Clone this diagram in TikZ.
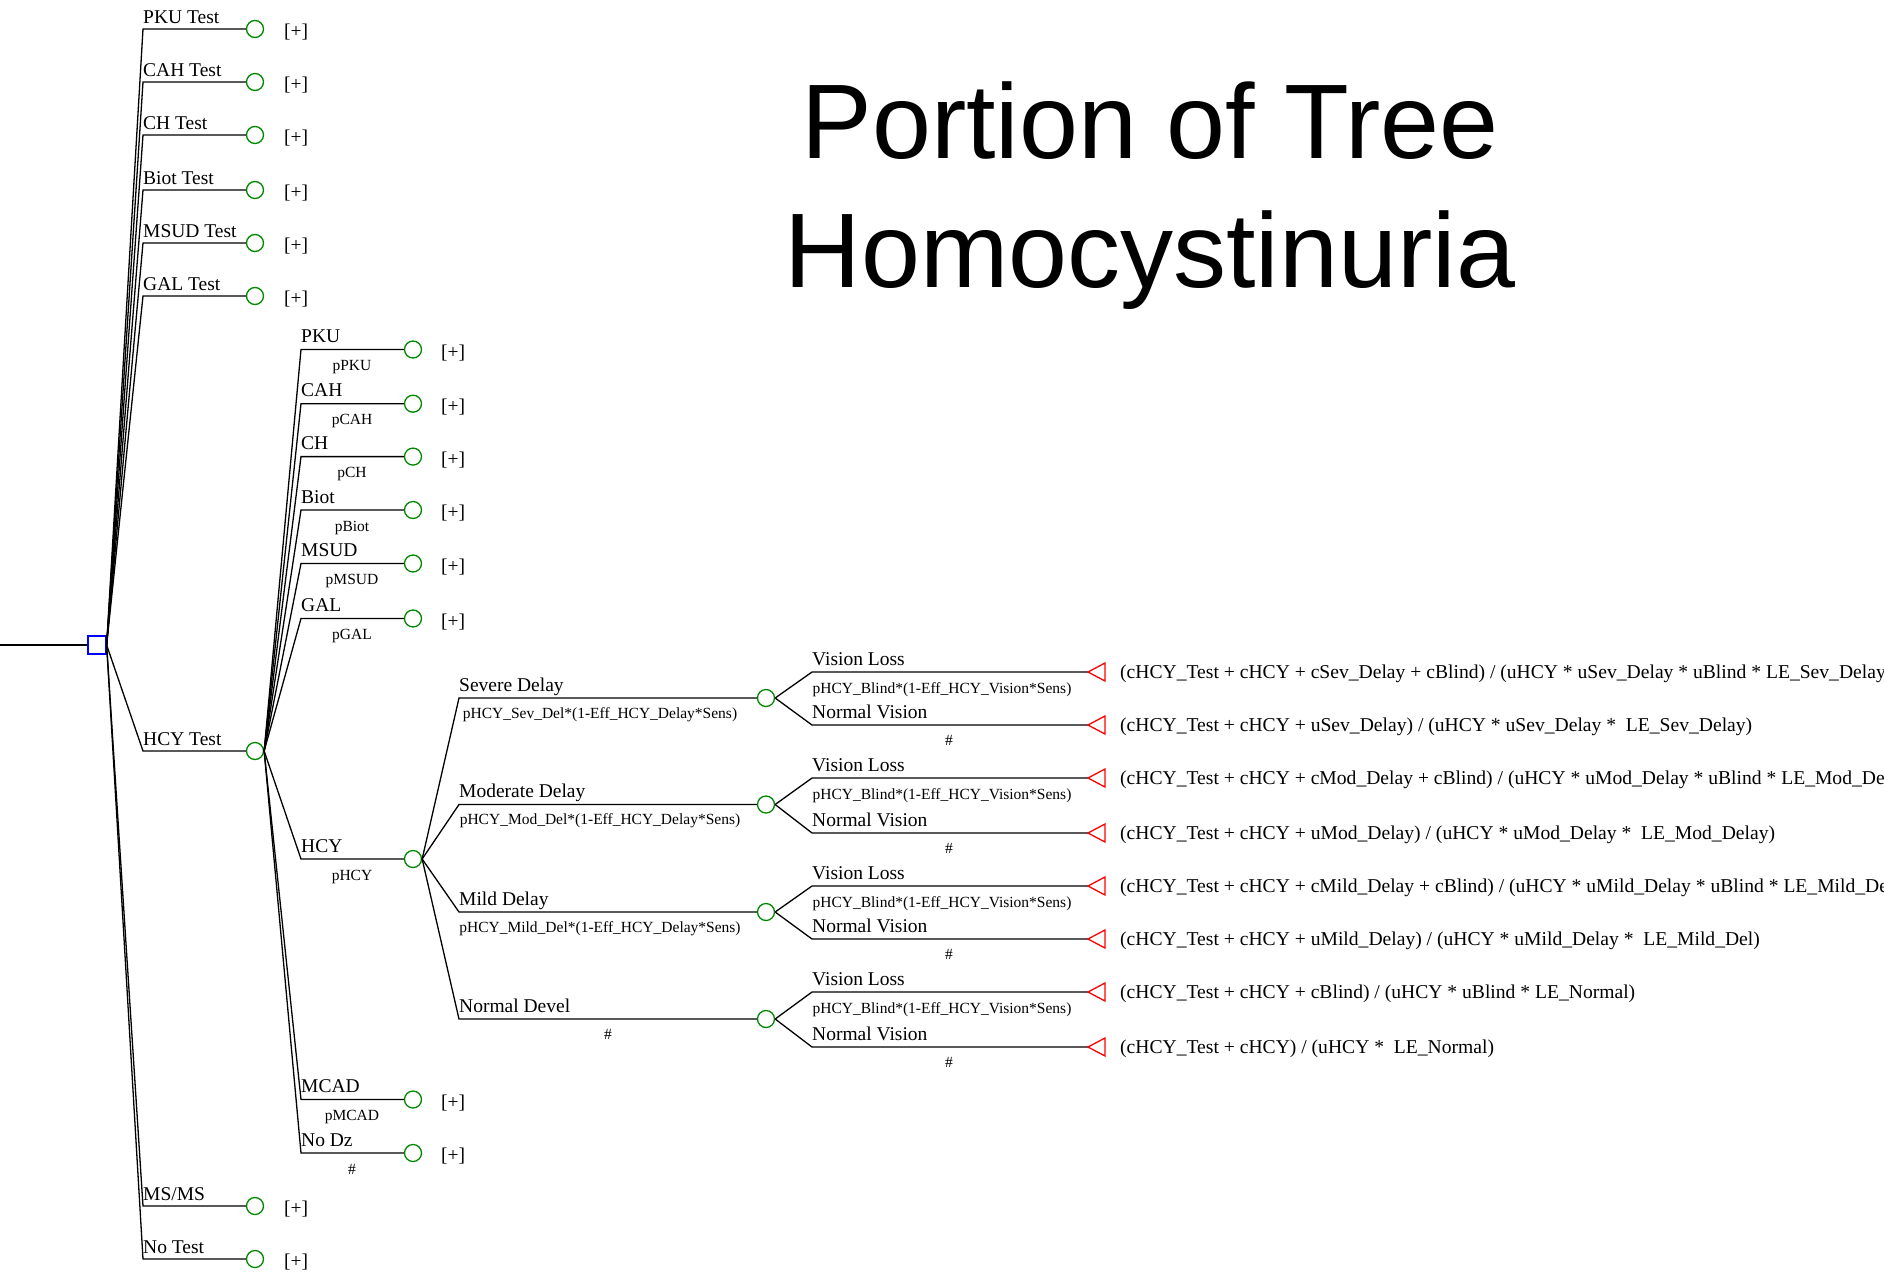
\documentclass[tikz,border=0pt]{standalone}
\usepackage{fontspec}
\setmainfont{Liberation Serif}
\newfontfamily\titlefont{Liberation Sans}
\usetikzlibrary{calc}
\definecolor{chgreen}{RGB}{0,135,0}
\definecolor{decblue}{RGB}{0,0,255}
\definecolor{termred}{RGB}{255,0,0}
\tikzset{
  br/.style={line width=1.3pt, black, line join=miter},
  chn/.style={circle, draw=chgreen, line width=1.3pt, minimum size=17pt, inner sep=0pt},
  dec/.style={rectangle, draw=decblue, line width=1.3pt, minimum size=18pt, inner sep=0pt},
  term/.style={draw=termred, line width=1.3pt, line join=miter},
  lab/.style={font=\fontsize{19.5}{21}\selectfont, anchor=base west, inner sep=0pt},
  prob/.style={font=\fontsize{15.5}{17}\selectfont, anchor=base, inner sep=0pt},
  plus/.style={font=\fontsize{19.5}{21}\selectfont, anchor=base west, inner sep=0pt},
  pay/.style={font=\fontsize{19.6}{21}\selectfont, anchor=base west, inner sep=0pt},
  ttl/.style={font=\titlefont\fontsize{106}{127}\selectfont, anchor=base, inner sep=0pt}
}
\begin{document}
\begin{tikzpicture}[x=1pt,y=-1pt]
\useasboundingbox (0,0) rectangle (1884,1272);
\clip (0,0) rectangle (1884,1272);

% title
\node[ttl] (t1) at (1150,158) {Portion of Tree};
\node[ttl] (t2) at (1150,287) {Homocystinuria};

% root decision
\coordinate (in) at (0,645);
\node[dec] (root) at (97,645) {};
\draw[br] (in) -- (root.west);

% level 1 test branches
\foreach \i/\y/\t in {1/29/PKU Test,2/82/CAH Test,3/135/CH Test,4/190/Biot Test,5/243/MSUD Test,6/296/GAL Test,7/1206/MS\slash MS,8/1259/No Test}{
  \coordinate (s\i) at (143,\y);
  \node[chn] (c\i) at (255,\y) {};
  \draw[br] (root.east) -- (s\i) -- (c\i.west);
  \node[lab] (l\i) at (143,{\y-6}) {\t};
  \node[plus] (p\i) at (284,{\y+8}) {[+]};
}
% HCY Test
\coordinate (sH) at (143,751);
\node[chn] (cH) at (255,751) {};
\draw[br] (root.east) -- (sH) -- (cH.west);
\node[lab] (lH) at (143,745) {HCY Test};

% level 2 disease branches
\foreach \i/\y/\t/\p in {1/349.5/PKU/pPKU,2/403.7/CAH/pCAH,3/456.6/CH/pCH,4/510/Biot/pBiot,5/563.5/MSUD/pMSUD,6/618.5/GAL/pGAL,7/1099.5/MCAD/pMCAD,8/1153/No Dz/\#}{
  \coordinate (d\i) at (301,\y);
  \node[chn] (e\i) at (413,\y) {};
  \draw[br] (cH.east) -- (d\i) -- (e\i.west);
  \node[lab] (m\i) at (301,{\y-7}) {\t};
  \node[prob] (q\i) at (352,{\y+21}) {\p};
  \node[plus] (r\i) at (441,{\y+8.5}) {[+]};
}
% HCY disease
\coordinate (dH) at (301,859);
\node[chn] (eH) at (413,859) {};
\draw[br] (cH.east) -- (dH) -- (eH.west);
\node[lab] (mH) at (301,852) {HCY};
\node[prob] (qH) at (352,880) {pHCY};

% level 3 delay branches
\foreach \i/\y/\t/\p/\cx in {1/698/Severe Delay/{pHCY\_Sev\_Del*(1-Eff\_HCY\_Delay*Sens)}/600,2/804.5/Moderate Delay/{pHCY\_Mod\_Del*(1-Eff\_HCY\_Delay*Sens)}/600,3/912/Mild Delay/{pHCY\_Mild\_Del*(1-Eff\_HCY\_Delay*Sens)}/600,4/1019/Normal Devel/\#/608}{
  \coordinate (g\i) at (459,\y);
  \node[chn] (h\i) at (766,\y) {};
  \draw[br] (eH.east) -- (g\i) -- (h\i.west);
  \node[lab] (n\i) at (459,{\y-7}) {\t};
  \node[prob] (o\i) at (\cx,{\y+20}) {\p};
}

% level 4 vision branches
\foreach \i/\a/\b in {1/672/725,2/778/833,3/886/939,4/992/1047}{
  \coordinate (va\i) at (812,\a);
  \coordinate (vb\i) at (812,\b);
  \coordinate (ta\i) at (1088,\a);
  \coordinate (tb\i) at (1088,\b);
  \draw[br] (h\i.east) -- (va\i) -- (ta\i);
  \draw[br] (h\i.east) -- (vb\i) -- (tb\i);
  \draw[term] (ta\i) -- ++(17,-9) -- ++(0,18) -- cycle;
  \draw[term] (tb\i) -- ++(17,-9) -- ++(0,18) -- cycle;
  \node[lab] (wa\i) at (812,{\a-7}) {Vision Loss};
  \node[lab] (wb\i) at (812,{\b-7}) {Normal Vision};
  \node[prob] (xa\i) at (942,{\a+21}) {pHCY\_Blind*(1-Eff\_HCY\_Vision*Sens)};
  \node[prob] (xb\i) at (949,{\b+20}) {\#};
}

% payoffs
\node[pay] (y1) at (1120,678) {(cHCY\_Test + cHCY + cSev\_Delay + cBlind) / (uHCY * uSev\_Delay * uBlind * LE\_Sev\_Delay)};
\node[pay] (y2) at (1120,731) {(cHCY\_Test + cHCY + uSev\_Delay) / (uHCY * uSev\_Delay * \ LE\_Sev\_Delay)};
\node[pay] (y3) at (1120,784) {(cHCY\_Test + cHCY + cMod\_Delay + cBlind) / (uHCY * uMod\_Delay * uBlind * LE\_Mod\_Delay)};
\node[pay] (y4) at (1120,839) {(cHCY\_Test + cHCY + uMod\_Delay) / (uHCY * uMod\_Delay * \ LE\_Mod\_Delay)};
\node[pay] (y5) at (1120,892) {(cHCY\_Test + cHCY + cMild\_Delay + cBlind) / (uHCY * uMild\_Delay * uBlind * LE\_Mild\_Del)};
\node[pay] (y6) at (1120,945) {(cHCY\_Test + cHCY + uMild\_Delay) / (uHCY * uMild\_Delay * \ LE\_Mild\_Del)};
\node[pay] (y7) at (1120,998) {(cHCY\_Test + cHCY + cBlind) / (uHCY * uBlind * LE\_Normal)};
\node[pay] (y8) at (1120,1053) {(cHCY\_Test + cHCY) / (uHCY * \ LE\_Normal)};
\end{tikzpicture}
\end{document}
